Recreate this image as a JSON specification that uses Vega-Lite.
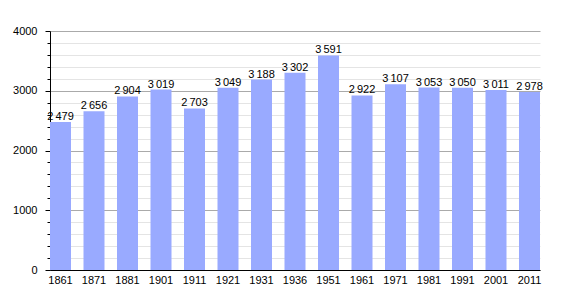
{
  "$schema": "https://vega.github.io/schema/vega-lite/v6.json",
  "width": 490,
  "height": 239,
  "autosize": {"type": "none"},
  "padding": {"left": 50, "top": 31, "right": 30, "bottom": 30},
  "background": "white",
  "config": {
    "view": {"stroke": null},
    "font": "Liberation Sans",
    "locale": {"number": {"decimal": ".", "thousands": "\u2009", "grouping": [3], "currency": ["", ""]}}
  },
  "data": {
    "values": [
      {"year": "1861", "pop": 2479},
      {"year": "1871", "pop": 2656},
      {"year": "1881", "pop": 2904},
      {"year": "1901", "pop": 3019},
      {"year": "1911", "pop": 2703},
      {"year": "1921", "pop": 3049},
      {"year": "1931", "pop": 3188},
      {"year": "1936", "pop": 3302},
      {"year": "1951", "pop": 3591},
      {"year": "1961", "pop": 2922},
      {"year": "1971", "pop": 3107},
      {"year": "1981", "pop": 3053},
      {"year": "1991", "pop": 3050},
      {"year": "2001", "pop": 3011},
      {"year": "2011", "pop": 2978}
    ]
  },
  "encoding": {
    "x": {
      "field": "year", "type": "ordinal", "sort": null,
      "scale": {"paddingInner": 0.373, "paddingOuter": 0},
      "axis": {"title": null, "labelAngle": 0, "ticks": false, "domainColor": "black", "labelColor": "black", "labelFontSize": 11, "labelPadding": 4, "domainWidth": 1}
    }
  },
  "layer": [
    {
      "mark": {"type": "bar", "color": "#99aaff"},
      "encoding": {
        "y": {
          "field": "pop", "type": "quantitative",
          "scale": {"domain": [0, 4000], "nice": false},
          "axis": {
            "orient": "left", "title": null, "labels": false, "domain": false,
            "values": [200, 400, 600, 800, 1200, 1400, 1600, 1800, 2200, 2400, 2600, 2800, 3200, 3400, 3600, 3800],
            "tickSize": 3, "tickColor": "black", "gridColor": "#e4e4e4", "grid": true
          }
        }
      }
    },
    {
      "mark": {"type": "text", "baseline": "bottom", "dy": 0, "fontSize": 11, "color": "black", "font": "Liberation Sans"},
      "encoding": {
        "y": {
          "field": "pop", "type": "quantitative",
          "axis": {
            "orient": "left", "title": null, "values": [0, 1000, 2000, 3000, 4000], "format": "d",
            "tickSize": 5, "tickColor": "black", "domainColor": "black", "gridColor": "#aaaaaa", "grid": true,
            "labelColor": "black", "labelFontSize": 11, "labelPadding": 8
          }
        },
        "text": {"field": "pop", "type": "quantitative", "format": ",d"}
      }
    }
  ],
  "resolve": {"axis": {"y": "independent"}}
}
